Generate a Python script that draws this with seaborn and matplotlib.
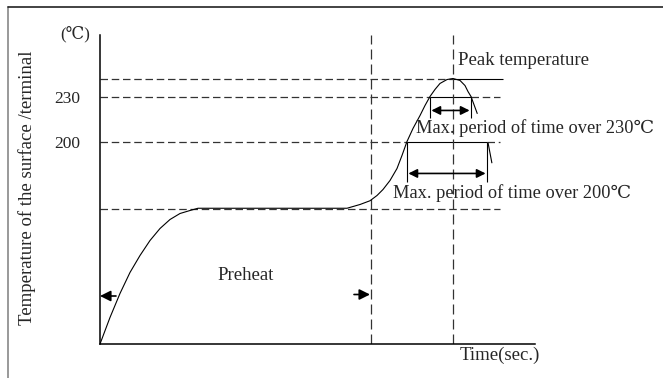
import matplotlib
matplotlib.use("Agg")
import matplotlib.pyplot as plt
import seaborn as sns
import pandas as pd
from matplotlib.lines import Line2D

# reflow profile (time in arbitrary sec, temperature in degC)
profile_time = [0, 10, 20, 30, 40, 50, 60, 70, 80, 90, 98, 247, 260, 270, 277, 283, 290, 297,
                302, 307, 313, 320, 325, 330, 335, 340, 347, 353, 360, 365, 368, 371]
profile_temp = [65, 82.7, 98.7, 112.7, 124, 134, 142, 148, 152, 154, 155.5, 155.5, 158, 160.5,
                164, 168, 174, 182, 190.7, 200, 208.7, 217.3, 224, 230, 234.7, 238.7, 241.3,
                242, 240.7, 237.3, 233.3, 230]
tail_time = [371, 378, 388, 392]
tail_temp = [230, 217.3, 199.3, 185.3]

peak_temp = 242
preheat_temp = 155
tick_temps = [200, 230]
tick_labels = ["200", "230"]

preheat_end = 271
peak_time = 353
rise_230, fall_230 = 330, 371
rise_200, fall_200 = 307, 387
line_end = 400
x_max = 435
y_min, y_max = 65, 271

sns.set_style("white")
plt.rcParams["font.family"] = ["Liberation Serif", "DejaVu Serif"]

fig = plt.figure(figsize=(6.63, 3.78), dpi=100)
ax = fig.add_axes([100 / 663, 34 / 378, 435 / 663, 309 / 378])
ax.set_xlim(0, x_max)
ax.set_ylim(y_min, y_max)

dash = dict(color="#333333", lw=0.9, linestyle=(0, (6, 3)))
solid = dict(color="black", lw=0.8)

# horizontal reference lines
ax.hlines(peak_temp, 0, peak_time, **dash)
ax.hlines(peak_temp, peak_time, line_end + 3, **solid)
ax.hlines(230, 0, rise_230, **dash)
ax.hlines(230, rise_230, fall_230, **solid)
ax.hlines(230, fall_230, line_end, **dash)
ax.hlines(200, 0, rise_200, **dash)
ax.hlines(200, rise_200, fall_200, **solid)
ax.hlines(200, fall_200, line_end, **dash)
ax.hlines(preheat_temp, 0, line_end, **dash)

# vertical reference lines
vdash = dict(color="#333333", lw=0.9, linestyle=(0, (8, 4)))
ax.vlines([preheat_end, peak_time], y_min, y_max, **vdash)

# profile curve
df = pd.DataFrame({"t": profile_time, "T": profile_temp})
sns.lineplot(data=df, x="t", y="T", sort=False, color="black", lw=0.8, ax=ax)
tail = pd.DataFrame({"t": tail_time, "T": tail_temp})
sns.lineplot(data=tail, x="t", y="T", sort=False, color="black", lw=0.8,
             linestyle=(0, (16.6, 27.6, 18.9, 90)), ax=ax)

# dimension lines
ax.vlines([rise_230, fall_230], 216, 230, **solid)
ax.vlines([rise_200, fall_200], 172.7, 200, **solid)
arr = dict(arrowstyle="<|-|>", color="black", lw=1.2, mutation_scale=13,
           shrinkA=1, shrinkB=1)
ax.annotate("", xy=(rise_230, 220.7), xytext=(fall_230, 220.7), arrowprops=arr)
ax.annotate("", xy=(rise_200, 178.7), xytext=(fall_200, 178.7), arrowprops=arr)

# preheat arrows
one = dict(arrowstyle="-|>", color="black", lw=1.2, mutation_scale=16,
           shrinkA=0, shrinkB=0)
ax.annotate("", xy=(0, 97), xytext=(16, 97), arrowprops=one)
ax.annotate("", xy=(preheat_end - 1, 98), xytext=(preheat_end - 17, 98), arrowprops=one)

fs = 13.5
ax.text(358, 254, "Peak temperature", fontsize=fs, va="center", ha="left")
ax.text(316, 208.7, "Max. period of time over 230℃", fontsize=13.2, va="center", ha="left")
ax.text(293, 165.3, "Max. period of time over 200℃", fontsize=13.2, va="center", ha="left")
ax.text(146, 110.7, "Preheat", fontsize=fs, va="center", ha="center")
ax.text(400, 57.7, "Time(sec.)", fontsize=fs, va="center", ha="center", clip_on=False)
ax.text(-0.057, 1.003, "(℃)", transform=ax.transAxes, fontsize=12, va="center", ha="center")

# axes
sns.despine(ax=ax)
for s in ["left", "bottom"]:
    ax.spines[s].set_color("black")
    ax.spines[s].set_linewidth(1.1)
ax.set_xticks([])
ax.set_yticks(tick_temps)
ax.set_yticklabels(tick_labels, fontsize=12.5)
ax.tick_params(axis="y", length=0, pad=14)
ax.set_xlabel("")
ax.set_ylabel("Temperature of the surface /terminal", fontsize=fs)
ax.yaxis.set_label_coords(-0.148, 0.505)

# outer frame
fig.add_artist(Line2D([8 / 663, 8 / 663], [0, 1 - 7 / 378], color="#888888", lw=1.2))
fig.add_artist(Line2D([8 / 663, 1], [1 - 7 / 378, 1 - 7 / 378], color="#222222", lw=1.2))

fig.savefig("out.png", dpi=100)
